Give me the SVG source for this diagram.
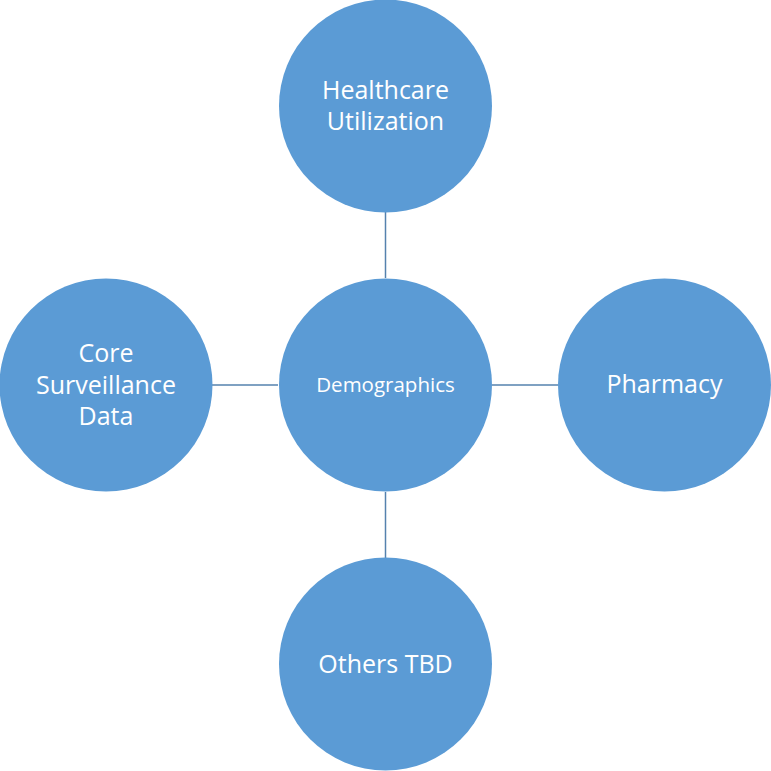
<svg xmlns="http://www.w3.org/2000/svg" width="771" height="771" viewBox="0 0 771 771">
<style>
.node{fill:#5B9BD5;}
.lbl{fill:#FFFFFF;font-family:"Open Sans","Noto Sans",sans-serif;font-size:25px;text-anchor:middle;}
.sm{font-size:20.5px;}
.conn{stroke:#5582AE;stroke-width:1.5;fill:none;}
</style>
<rect width="771" height="771" fill="#FFFFFF"/>
<g id="connectors">
<line class="conn" x1="385.5" y1="212" x2="385.5" y2="278"/>
<line class="conn" x1="212" y1="385" x2="278" y2="385"/>
<line class="conn" x1="492" y1="385" x2="558" y2="385"/>
<line class="conn" x1="385.5" y1="492" x2="385.5" y2="558"/>
</g>
<g id="healthcare">
<circle class="node" cx="385.5" cy="106" r="106.5"/>
<text class="lbl" x="385.5" y="99">Healthcare</text>
<text class="lbl" x="385.5" y="130">Utilization</text>
</g>
<g id="core">
<circle class="node" cx="106" cy="385" r="106.5"/>
<text class="lbl" x="106" y="362">Core</text>
<text class="lbl" x="106" y="393.5">Surveillance</text>
<text class="lbl" x="106" y="425">Data</text>
</g>
<g id="demographics">
<circle class="node" cx="385.5" cy="385" r="106.5"/>
<text class="lbl sm" x="385.5" y="392">Demographics</text>
</g>
<g id="pharmacy">
<circle class="node" cx="664.5" cy="385" r="106.5"/>
<text class="lbl" x="664.5" y="393">Pharmacy</text>
</g>
<g id="others">
<circle class="node" cx="385.5" cy="664" r="106.5"/>
<text class="lbl" x="385.5" y="673">Others TBD</text>
</g>
</svg>
